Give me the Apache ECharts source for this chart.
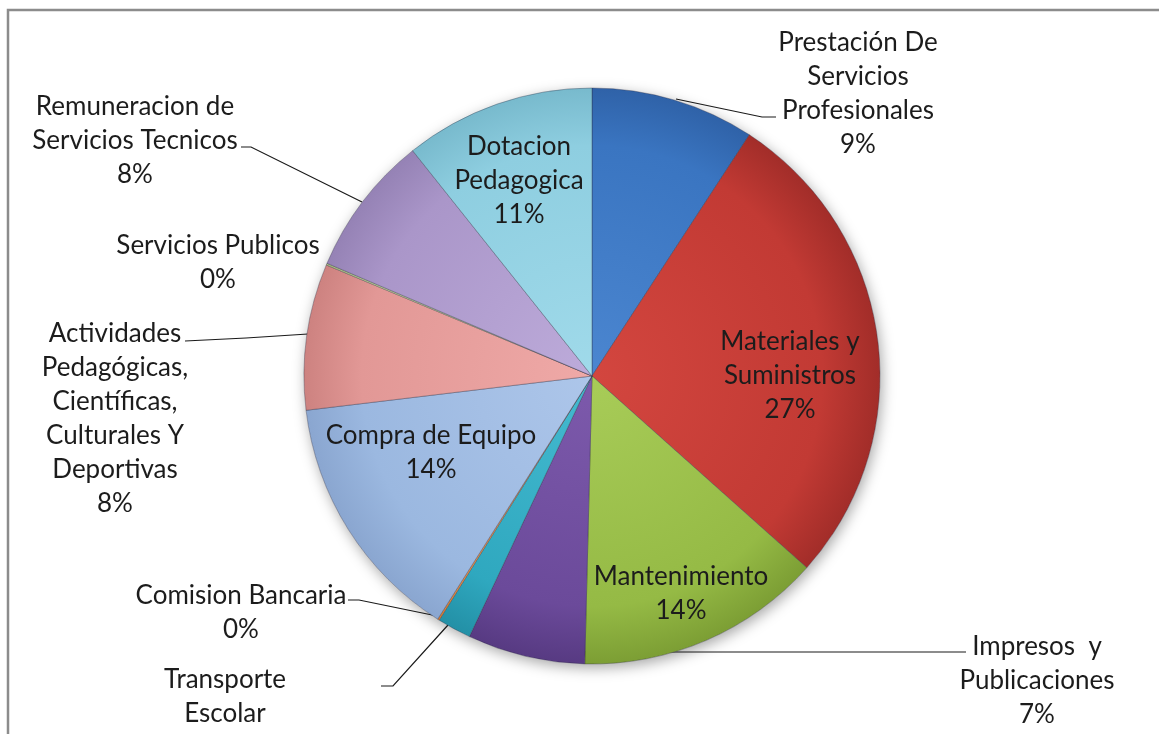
<!DOCTYPE html>
<html>
<head>
<meta charset="utf-8">
<script src="https://cdn.jsdelivr.net/npm/echarts@6/dist/echarts.min.js"></script>
<style>
html,body{margin:0;padding:0;background:#fff;}
#chart{width:1159px;height:734px;}
</style>
</head>
<body>
<div id="chart"></div>
<script>
// Categories (clockwise from 12 o'clock)
const categories = [
  'Prestación De Servicios Profesionales',
  'Materiales y Suministros',
  'Mantenimiento',
  'Impresos  y Publicaciones',
  'Transporte Escolar',
  'Comision Bancaria',
  'Compra de Equipo',
  'Actividades Pedagógicas, Científicas, Culturales Y Deportivas',
  'Servicios Publicos',
  'Remuneracion de Servicios Tecnicos',
  'Dotacion Pedagogica'
];
// Share of budget (%)
const values = [9.2, 27.4, 13.8, 6.6, 1.9, 0.1, 14.1, 8.2, 0.1, 7.9, 10.7];
// Label text as wrapped in the picture
const labelLines = [
  'Prestación De\nServicios\nProfesionales',
  'Materiales y\nSuministros',
  'Mantenimiento',
  'Impresos  y\nPublicaciones',
  'Transporte\nEscolar',
  'Comision Bancaria',
  'Compra de Equipo',
  'Actividades\nPedagógicas,\nCientíficas,\nCulturales Y\nDeportivas',
  'Servicios Publicos',
  'Remuneracion de\nServicios Tecnicos',
  'Dotacion\nPedagogica'
];
const showPercent = [true, true, true, true, false, true, true, true, true, true, true];

// styling
const colors = [
  ['#4B86D0', '#3A75C1', '#2F62A8'],
  ['#D3463F', '#C23A34', '#A22D29'],
  ['#A8CC58', '#95BA45', '#7C9E34'],
  ['#7D5AAC', '#6B4A9A', '#573A82'],
  ['#45BAD0', '#2FA8BF', '#2390A6'],
  ['#F9A45E', '#F79646', '#DC7E30'],
  ['#ADC6EA', '#9BB8E0', '#8AA6D0'],
  ['#EFA9A7', '#E29896', '#CD8280'],
  ['#CFE0A8', '#C3D69B', '#A9BE80'],
  ['#BDABDA', '#AA96C9', '#9582B5'],
  ['#A0DAEA', '#8ECEE0', '#78BACD']
];
const CX = 592, CY = 376, R = 288;
const labelPos = [
  {x: 858, y: 94, line: [[676, 99], [762, 117], [776, 117]]},
  {x: 790, y: 376},
  {x: 681, y: 594},
  {x: 1037, y: 681, line: [[520, 652], [700, 652], [966, 652]]},
  {x: 225, y: 697, line: [[448, 625], [393, 686], [381, 686]]},
  {x: 241, y: 613, line: [[437, 616], [359, 600], [348, 600]]},
  {x: 431, y: 453},
  {x: 115, y: 419, line: [[308, 334], [246, 338], [185, 341]]},
  {x: 218, y: 263},
  {x: 135, y: 141, line: [[362, 202], [251, 147], [241, 147]]},
  {x: 519, y: 181}
];

const data = categories.map((name, i) => ({
  name: name,
  value: values[i],
  itemStyle: {
    color: {
      type: 'radial', x: CX, y: CY, r: R, global: true,
      colorStops: [
        {offset: 0, color: colors[i][0]},
        {offset: 0.8, color: colors[i][1]},
        {offset: 1, color: colors[i][2]}
      ]
    }
  },
  labelLine: {show: !!labelPos[i].line}
}));

const chart = echarts.init(document.getElementById('chart'), null, {renderer: 'canvas'});
chart.setOption({
  backgroundColor: '#ffffff',
  animation: false,
  graphic: [{
    type: 'rect',
    shape: {x: 8, y: 10, width: 1300, height: 900},
    style: {fill: 'none', stroke: '#8c8c8c', lineWidth: 2.5},
    silent: true, z: 100
  }],
  series: [
    {
      type: 'pie',
      silent: true,
      center: [CX, CY],
      radius: [0, R],
      label: {show: false},
      labelLine: {show: false},
      itemStyle: {color: '#ffffff', shadowBlur: 14, shadowColor: 'rgba(0,0,0,0.35)', shadowOffsetX: 2, shadowOffsetY: 4},
      data: [{value: 1, name: 'sombra'}],
      z: 1
    },
    {
      type: 'pie',
      center: [CX, CY],
      radius: [0, R],
      startAngle: 90,
      clockwise: true,
      avoidLabelOverlap: false,
      minAngle: 0,
      z: 2,
      itemStyle: {borderColor: 'rgba(40,40,60,0.35)', borderWidth: 1},
      label: {
        show: true,
        position: 'outside',
        fontFamily: 'Lato, "Open Sans", sans-serif',
        fontSize: 26,
        lineHeight: 34,
        color: '#1c1c1c',
        align: 'center',
        formatter: function (p) {
          const t = labelLines[p.dataIndex];
          return showPercent[p.dataIndex] ? t + '\n' + Math.round(p.percent) + '%' : t;
        }
      },
      labelLine: {
        show: true,
        showAbove: true,
        lineStyle: {color: '#1a1a1a', width: 1.2}
      },
      labelLayout: function (params) {
        const lp = labelPos[params.dataIndex];
        const res = {x: lp.x, y: lp.y, align: 'center', verticalAlign: 'middle'};
        if (lp.line) res.labelLinePoints = lp.line;
        return res;
      },
      data: data
    }
  ]
});
</script>
</body>
</html>
